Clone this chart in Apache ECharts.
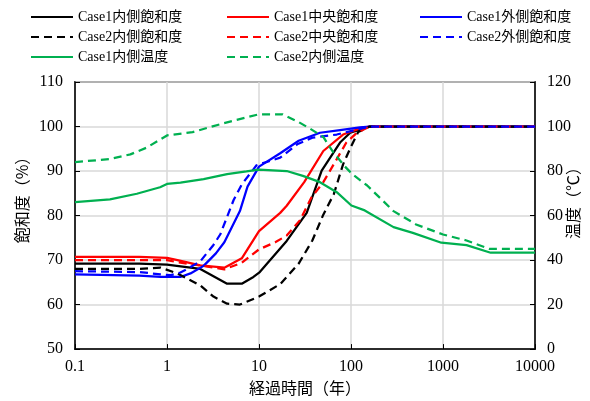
<!DOCTYPE html>
<html>
<head>
<meta charset="utf-8">
<script src="https://cdn.jsdelivr.net/npm/echarts@6/dist/echarts.min.js"></script>
<style>
  html, body { margin: 0; padding: 0; background: #fff; }
  #chart { width: 590px; height: 401px; }
</style>
</head>
<body>
<div id="chart"></div>
<script>
// x tick labels (log axis, years)
const xTickLabels = ['0.1', '1', '10', '100', '1000', '10000'];

// saturation (%) — [years, value]
const case1Inner = [[0.1, 69.2], [0.5, 69.2], [1, 69], [2.3, 68], [4.5, 64.7], [6.5, 64.7], [8.7, 66.2], [10.2, 67.3], [20, 74.3], [33, 80.6], [48, 90.1], [76, 96.4], [98, 98.6], [125, 99.3], [160, 100], [10000, 100]];
const case1Center = [[0.1, 70.7], [0.5, 70.7], [1, 70.5], [1.3, 70], [2.3, 68.8], [4.2, 68.3], [6.5, 70.4], [10, 76.5], [17, 80.6], [20, 82.2], [31, 87.5], [50, 94.5], [82, 98.2], [130, 99.7], [160, 100], [10000, 100]];
const case1Outer = [[0.1, 66.8], [0.5, 66.5], [0.85, 66.2], [1.4, 66.2], [1.8, 67], [2.5, 68.7], [3.4, 71.5], [4.2, 74], [6.2, 81], [7.5, 86.5], [10, 91], [17, 94], [27, 96.8], [46, 98.6], [76, 99.2], [125, 99.8], [160, 100], [10000, 100]];
const case2Inner = [[0.1, 68], [0.5, 68], [0.85, 68.3], [1.3, 67], [2.3, 64.3], [3.2, 61.8], [4.5, 60.2], [6.2, 60], [10, 61.8], [17, 64.6], [27, 69.2], [38, 74.4], [50, 80.2], [65, 84.8], [82, 91.5], [100, 95.5], [120, 98.8], [160, 100], [10000, 100]];
const case2Center = [[0.1, 70], [1, 70], [1.3, 69.5], [2.3, 68.8], [4.2, 67.9], [6.5, 69.4], [10, 72.4], [15, 74], [20, 75.5], [28, 79], [37, 84], [50, 87.5], [67, 92], [89, 96.4], [116, 98.6], [160, 100], [10000, 100]];
const case2Outer = [[0.1, 67.5], [0.5, 67.3], [0.85, 66.8], [1.1, 66.6], [1.4, 67.2], [1.6, 67.8], [2.3, 69.7], [3.2, 73.4], [3.8, 75.8], [5.3, 83.5], [6.5, 87], [9.4, 91.3], [17, 93], [26, 96], [38, 97.5], [70, 98.2], [116, 99.3], [160, 100], [10000, 100]];

// temperature (°C) — [years, value]
const case1Temp = [[0.1, 66], [0.24, 67.3], [0.47, 69.8], [0.84, 72.7], [1, 74.2], [1.4, 74.8], [2.5, 76.4], [4.5, 78.6], [7.3, 79.8], [10, 80.6], [20, 80], [30, 77.8], [46, 75], [70, 70.5], [101, 64.5], [141, 62.3], [290, 54.8], [470, 52.2], [960, 47.8], [1800, 46.7], [3300, 43.3], [10000, 43.3]];
const case2Temp = [[0.1, 84], [0.24, 85.4], [0.4, 87.5], [0.6, 90.5], [1, 96], [1.9, 97.5], [3.2, 100.2], [5.7, 103], [10, 105.5], [18, 105.5], [27, 102], [36, 99], [50, 95.3], [64, 88.5], [86, 82], [104, 78.5], [150, 73.5], [290, 62], [510, 56], [1000, 51.5], [1800, 48.8], [3200, 45], [10000, 45]];

const SERIF = "'Liberation Serif', 'Noto Sans CJK JP', serif";
const GOTHIC = "'Noto Sans CJK JP', sans-serif";
const DASH = [8, 5];

const chart = echarts.init(document.getElementById('chart'), null, { renderer: 'canvas' });

function line(name, data, color, dashed, yAxisIndex) {
  return {
    name: name,
    type: 'line',
    yAxisIndex: yAxisIndex || 0,
    data: data,
    symbol: 'none',
    smooth: false,
    lineStyle: { color: color, width: 2.25, type: dashed ? DASH : 'solid' },
    itemStyle: { color: color }
  };
}

// one legend per item so the 3-column layout can be placed exactly
function legendAt(name, left, top) {
  return {
    data: [name],
    left: left,
    top: top,
    itemWidth: 42,
    itemHeight: 14,
    itemGap: 0,
    padding: 0,
    itemStyle: { opacity: 0 },
    textStyle: { fontFamily: SERIF, fontSize: 14, color: '#000' }
  };
}

const colX = [30, 226, 419];
const rowY = [10, 30, 50];

const option = {
  animation: false,
  backgroundColor: '#fff',
  legend: [
    legendAt('Case1内側飽和度', colX[0], rowY[0]),
    legendAt('Case1中央飽和度', colX[1], rowY[0]),
    legendAt('Case1外側飽和度', colX[2], rowY[0]),
    legendAt('Case2内側飽和度', colX[0], rowY[1]),
    legendAt('Case2中央飽和度', colX[1], rowY[1]),
    legendAt('Case2外側飽和度', colX[2], rowY[1]),
    legendAt('Case1内側温度', colX[0], rowY[2]),
    legendAt('Case2内側温度', colX[1], rowY[2])
  ],
  grid: {
    left: 75, right: 55, top: 82, bottom: 48,
    show: true, borderColor: '#000', borderWidth: 1.5
  },
  xAxis: {
    type: 'log',
    logBase: 10,
    min: 0.1,
    max: 10000,
    name: '経過時間（年）',
    nameLocation: 'middle',
    nameGap: 30,
    nameTextStyle: { fontFamily: GOTHIC, fontSize: 16, color: '#000' },
    axisLine: { lineStyle: { color: '#000', width: 1.5 } },
    axisTick: { inside: true, length: 5, lineStyle: { color: '#000' } },
    splitLine: { show: true, lineStyle: { color: '#d9d9d9', width: 1.5 } },
    axisLabel: {
      fontFamily: SERIF, fontSize: 16, color: '#000', margin: 10,
      formatter: v => xTickLabels[Math.round(Math.log10(v)) + 1]
    }
  },
  yAxis: [
    {
      type: 'value',
      min: 50, max: 110, interval: 10,
      axisLine: { show: true, lineStyle: { color: '#000', width: 1.5 } },
      axisTick: { show: true, inside: true, length: 5, lineStyle: { color: '#000' } },
      splitLine: { show: true, lineStyle: { color: '#d9d9d9', width: 1.5 } },
      axisLabel: { fontFamily: SERIF, fontSize: 16, color: '#000', margin: 12 }
    },
    {
      type: 'value',
      position: 'right',
      min: 0, max: 120, interval: 20,
      axisLine: { show: true, lineStyle: { color: '#000', width: 1.5 } },
      axisTick: { show: true, inside: true, length: 5, lineStyle: { color: '#000' } },
      splitLine: { show: false },
      axisLabel: { fontFamily: SERIF, fontSize: 16, color: '#000', margin: 12 }
    }
  ],
  // axis titles placed by hand (off-centre in the original)
  graphic: [
    {
      type: 'text', x: 22, y: 196, rotation: Math.PI / 2,
      style: { text: '飽和度（%）', font: '16px ' + GOTHIC, fill: '#000', textAlign: 'center', textVerticalAlign: 'middle' }
    },
    {
      type: 'text', x: 573, y: 199, rotation: Math.PI / 2,
      style: { text: '温度（℃）', font: '16px ' + GOTHIC, fill: '#000', textAlign: 'center', textVerticalAlign: 'middle' }
    }
  ],
  series: [
    line('Case1内側飽和度', case1Inner, '#000000', false),
    line('Case1中央飽和度', case1Center, '#ff0000', false),
    line('Case1外側飽和度', case1Outer, '#0000ff', false),
    line('Case2内側飽和度', case2Inner, '#000000', true),
    line('Case2中央飽和度', case2Center, '#ff0000', true),
    line('Case2外側飽和度', case2Outer, '#0000ff', true),
    line('Case1内側温度', case1Temp, '#00b050', false, 1),
    line('Case2内側温度', case2Temp, '#00b050', true, 1)
  ]
};

chart.setOption(option);
</script>
</body>
</html>
